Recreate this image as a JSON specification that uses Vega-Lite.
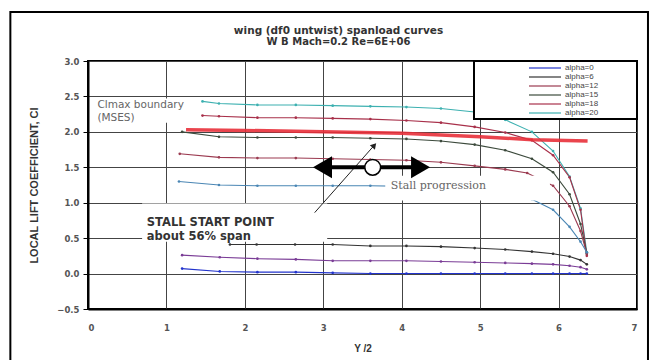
{
  "$schema": "https://vega.github.io/schema/vega-lite/v6.json",
  "autosize": "none",
  "width": 549,
  "height": 248,
  "padding": {"top": 61, "left": 88, "right": 19, "bottom": 51},
  "background": "white",
  "title": {
    "text": "wing (df0 untwist) spanload curves",
    "subtitle": "W B Mach=0.2 Re=6E+06",
    "anchor": "middle",
    "frame": "group",
    "dx": -24,
    "offset": -36,
    "font": "DejaVu Sans",
    "fontSize": 10.5,
    "fontWeight": "bold",
    "color": "#333",
    "subtitleFont": "DejaVu Sans",
    "subtitleFontSize": 10,
    "subtitleFontWeight": "bold",
    "subtitleColor": "#333",
    "subtitlePadding": 1
  },
  "config": {
    "view": {"stroke": "black", "strokeWidth": 2},
    "axis": {
      "labelFont": "DejaVu Sans",
      "labelFontWeight": "bold",
      "labelFontSize": 8.5,
      "labelColor": "#555",
      "labelOverlap": false,
      "titleFont": "Liberation Sans",
      "titleFontWeight": "bold",
      "titleFontSize": 9.5,
      "titleColor": "#333",
      "gridColor": "#444",
      "gridOpacity": 1,
      "gridWidth": 1,
      "domainColor": "black",
      "domainWidth": 2,
      "tickColor": "black"
    },
    "axisY": {"labelOverlap": false}
  },
  "datasets": {
    "curves": [
      {"series": "alpha=20", "x": 1.46, "cl": 2.43}, {"series": "alpha=20", "x": 1.67, "cl": 2.40}, {"series": "alpha=20", "x": 2.16, "cl": 2.38}, {"series": "alpha=20", "x": 2.65, "cl": 2.38}, {"series": "alpha=20", "x": 3.12, "cl": 2.37}, {"series": "alpha=20", "x": 3.6, "cl": 2.36}, {"series": "alpha=20", "x": 4.06, "cl": 2.35}, {"series": "alpha=20", "x": 4.5, "cl": 2.33}, {"series": "alpha=20", "x": 4.93, "cl": 2.28}, {"series": "alpha=20", "x": 5.32, "cl": 2.17}, {"series": "alpha=20", "x": 5.66, "cl": 2.0}, {"series": "alpha=20", "x": 5.93, "cl": 1.73}, {"series": "alpha=20", "x": 6.14, "cl": 1.37}, {"series": "alpha=20", "x": 6.28, "cl": 0.92}, {"series": "alpha=20", "x": 6.36, "cl": 0.30},
      {"series": "alpha=18", "x": 1.46, "cl": 2.23}, {"series": "alpha=18", "x": 1.67, "cl": 2.22}, {"series": "alpha=18", "x": 2.16, "cl": 2.20}, {"series": "alpha=18", "x": 2.65, "cl": 2.20}, {"series": "alpha=18", "x": 3.12, "cl": 2.19}, {"series": "alpha=18", "x": 3.6, "cl": 2.18}, {"series": "alpha=18", "x": 4.06, "cl": 2.16}, {"series": "alpha=18", "x": 4.5, "cl": 2.13}, {"series": "alpha=18", "x": 4.93, "cl": 2.07}, {"series": "alpha=18", "x": 5.32, "cl": 1.99}, {"series": "alpha=18", "x": 5.66, "cl": 1.88}, {"series": "alpha=18", "x": 5.93, "cl": 1.67}, {"series": "alpha=18", "x": 6.14, "cl": 1.36}, {"series": "alpha=18", "x": 6.28, "cl": 0.90}, {"series": "alpha=18", "x": 6.36, "cl": 0.25},
      {"series": "alpha=15", "x": 1.2, "cl": 2.00}, {"series": "alpha=15", "x": 1.67, "cl": 1.93}, {"series": "alpha=15", "x": 2.16, "cl": 1.92}, {"series": "alpha=15", "x": 2.65, "cl": 1.92}, {"series": "alpha=15", "x": 3.12, "cl": 1.92}, {"series": "alpha=15", "x": 3.6, "cl": 1.91}, {"series": "alpha=15", "x": 4.06, "cl": 1.90}, {"series": "alpha=15", "x": 4.5, "cl": 1.87}, {"series": "alpha=15", "x": 4.93, "cl": 1.82}, {"series": "alpha=15", "x": 5.32, "cl": 1.74}, {"series": "alpha=15", "x": 5.66, "cl": 1.62}, {"series": "alpha=15", "x": 5.93, "cl": 1.43}, {"series": "alpha=15", "x": 6.14, "cl": 1.12}, {"series": "alpha=15", "x": 6.28, "cl": 0.70}, {"series": "alpha=15", "x": 6.36, "cl": 0.28},
      {"series": "alpha=12", "x": 1.17, "cl": 1.69}, {"series": "alpha=12", "x": 1.67, "cl": 1.64}, {"series": "alpha=12", "x": 2.16, "cl": 1.63}, {"series": "alpha=12", "x": 2.65, "cl": 1.63}, {"series": "alpha=12", "x": 3.12, "cl": 1.62}, {"series": "alpha=12", "x": 3.6, "cl": 1.61}, {"series": "alpha=12", "x": 4.06, "cl": 1.60}, {"series": "alpha=12", "x": 4.5, "cl": 1.57}, {"series": "alpha=12", "x": 4.93, "cl": 1.52}, {"series": "alpha=12", "x": 5.32, "cl": 1.47}, {"series": "alpha=12", "x": 5.6, "cl": 1.42}, {"series": "alpha=12", "x": 5.93, "cl": 1.24}, {"series": "alpha=12", "x": 6.14, "cl": 0.95}, {"series": "alpha=12", "x": 6.28, "cl": 0.60}, {"series": "alpha=12", "x": 6.36, "cl": 0.28},
      {"series": "alpha=10", "x": 1.16, "cl": 1.30}, {"series": "alpha=10", "x": 1.67, "cl": 1.25}, {"series": "alpha=10", "x": 2.16, "cl": 1.24}, {"series": "alpha=10", "x": 2.65, "cl": 1.24}, {"series": "alpha=10", "x": 3.12, "cl": 1.24}, {"series": "alpha=10", "x": 3.6, "cl": 1.24}, {"series": "alpha=10", "x": 4.06, "cl": 1.23}, {"series": "alpha=10", "x": 4.5, "cl": 1.21}, {"series": "alpha=10", "x": 4.93, "cl": 1.18}, {"series": "alpha=10", "x": 5.32, "cl": 1.13}, {"series": "alpha=10", "x": 5.66, "cl": 1.05}, {"series": "alpha=10", "x": 5.93, "cl": 0.90}, {"series": "alpha=10", "x": 6.14, "cl": 0.66}, {"series": "alpha=10", "x": 6.28, "cl": 0.45}, {"series": "alpha=10", "x": 6.36, "cl": 0.30},
      {"series": "alpha=6", "x": 1.81, "cl": 0.41}, {"series": "alpha=6", "x": 2.15, "cl": 0.41}, {"series": "alpha=6", "x": 2.64, "cl": 0.41}, {"series": "alpha=6", "x": 3.12, "cl": 0.41}, {"series": "alpha=6", "x": 3.6, "cl": 0.39}, {"series": "alpha=6", "x": 4.06, "cl": 0.39}, {"series": "alpha=6", "x": 4.5, "cl": 0.38}, {"series": "alpha=6", "x": 4.93, "cl": 0.36}, {"series": "alpha=6", "x": 5.32, "cl": 0.34}, {"series": "alpha=6", "x": 5.66, "cl": 0.31}, {"series": "alpha=6", "x": 5.93, "cl": 0.28}, {"series": "alpha=6", "x": 6.14, "cl": 0.24}, {"series": "alpha=6", "x": 6.28, "cl": 0.19}, {"series": "alpha=6", "x": 6.36, "cl": 0.13},
      {"series": "alpha=3", "x": 1.2, "cl": 0.26}, {"series": "alpha=3", "x": 1.68, "cl": 0.23}, {"series": "alpha=3", "x": 2.16, "cl": 0.21}, {"series": "alpha=3", "x": 2.65, "cl": 0.20}, {"series": "alpha=3", "x": 3.12, "cl": 0.18}, {"series": "alpha=3", "x": 3.6, "cl": 0.18}, {"series": "alpha=3", "x": 4.06, "cl": 0.18}, {"series": "alpha=3", "x": 4.5, "cl": 0.17}, {"series": "alpha=3", "x": 4.93, "cl": 0.16}, {"series": "alpha=3", "x": 5.32, "cl": 0.15}, {"series": "alpha=3", "x": 5.66, "cl": 0.14}, {"series": "alpha=3", "x": 5.93, "cl": 0.13}, {"series": "alpha=3", "x": 6.14, "cl": 0.11}, {"series": "alpha=3", "x": 6.28, "cl": 0.09}, {"series": "alpha=3", "x": 6.36, "cl": 0.06},
      {"series": "alpha=0", "x": 1.2, "cl": 0.07}, {"series": "alpha=0", "x": 1.68, "cl": 0.03}, {"series": "alpha=0", "x": 2.16, "cl": 0.02}, {"series": "alpha=0", "x": 2.65, "cl": 0.02}, {"series": "alpha=0", "x": 3.12, "cl": 0.01}, {"series": "alpha=0", "x": 3.6, "cl": 0.0}, {"series": "alpha=0", "x": 4.06, "cl": 0.0}, {"series": "alpha=0", "x": 4.5, "cl": 0.0}, {"series": "alpha=0", "x": 4.93, "cl": 0.0}, {"series": "alpha=0", "x": 5.32, "cl": 0.0}, {"series": "alpha=0", "x": 5.66, "cl": 0.0}, {"series": "alpha=0", "x": 5.93, "cl": 0.0}, {"series": "alpha=0", "x": 6.14, "cl": 0.0}, {"series": "alpha=0", "x": 6.28, "cl": 0.0}, {"series": "alpha=0", "x": 6.36, "cl": 0.0}
    ],
    "clmax": [
      {"x": 1.25, "cl": 2.03}, {"x": 2.0, "cl": 2.02}, {"x": 3.0, "cl": 2.0}, {"x": 4.0, "cl": 1.98}, {"x": 5.0, "cl": 1.93}, {"x": 5.67, "cl": 1.89}, {"x": 6.37, "cl": 1.87}
    ]
  },
  "layer": [
    {
      "data": {"values": [{"x": -0.99, "x2": 7.14, "cl": 3.69, "cl2": -1.4}]},
      "mark": {"type": "rect", "fill": null, "fillOpacity": 0, "stroke": "black", "strokeWidth": 2, "clip": false},
      "encoding": {
        "x": {"field": "x", "type": "quantitative"},
        "x2": {"field": "x2"},
        "y": {"field": "cl", "type": "quantitative"},
        "y2": {"field": "cl2"}
      }
    },
    {
      "data": {"name": "curves"},
      "mark": {"type": "line", "strokeWidth": 1.1, "point": {"filled": true, "size": 7}},
      "encoding": {
        "x": {
          "field": "x", "type": "quantitative", "title": "Y /2",
          "scale": {"domain": [0, 7], "nice": false, "zero": false},
          "axis": {"values": [0, 1, 2, 3, 4, 5, 6, 7], "format": "d", "ticks": false, "labelPadding": 14, "titlePadding": 12, "labelOverlap": false, "titleFontSize": 10}
        },
        "y": {
          "field": "cl", "type": "quantitative", "title": "LOCAL LIFT COEFFICIENT, Cl",
          "scale": {"domain": [-0.5, 3.0], "nice": false, "zero": false},
          "axis": {"tickCount": 8, "format": ".1f", "tickSize": 5, "labelPadding": 4, "titlePadding": 17, "labelOverlap": false, "labelSeparation": 0, "labelFlush": false, "titleFontSize": 11}
        },
        "color": {
          "field": "series", "type": "nominal",
          "scale": {
            "domain": ["alpha=0", "alpha=6", "alpha=12", "alpha=15", "alpha=18", "alpha=20", "alpha=3", "alpha=10"],
            "range": ["#2233cc", "#333333", "#9b3a50", "#3c4a3c", "#a8304a", "#3cb0b0", "#7a3c96", "#4a86b4"]
          },
          "legend": {
            "values": ["alpha=0", "alpha=6", "alpha=12", "alpha=15", "alpha=18", "alpha=20"],
            "title": null,
            "orient": "top-right",
            "offset": 0,
            "symbolType": "M-4,0L4,0",
            "symbolSize": 64,
            "symbolStrokeWidth": 1.2,
            "symbolOffset": 64,
            "rowPadding": 0,
            "padding": 2,
            "labelFont": "Liberation Sans",
            "labelFontSize": 8,
            "labelColor": "#444",
            "labelOffset": 15,
            "labelExpr": "datum.label + '\u2800\u2800\u2800\u2800\u2800\u2800'",
            "strokeColor": "black",
            "fillColor": "white",
            "encode": {"legend": {"update": {"strokeWidth": {"value": 2}}}}
          }
        }
      }
    },
    {
      "data": {"name": "clmax"},
      "mark": {"type": "line", "color": "#e8303a", "strokeWidth": 3.5, "opacity": 0.9},
      "encoding": {
        "x": {"field": "x", "type": "quantitative"},
        "y": {"field": "cl", "type": "quantitative"}
      }
    },
    {
      "data": {"values": [
        {"x": 0.69, "x2": 3.05, "cl": 0.99, "cl2": 0.45},
        {"x": 3.79, "x2": 5.89, "cl": 1.38, "cl2": 1.03},
        {"x": 0.06, "x2": 1.43, "cl": 2.47, "cl2": 2.13}
      ]},
      "mark": {"type": "rect", "fill": "white", "stroke": null},
      "encoding": {
        "x": {"field": "x", "type": "quantitative"},
        "x2": {"field": "x2"},
        "y": {"field": "cl", "type": "quantitative"},
        "y2": {"field": "cl2"}
      }
    },
    {
      "data": {"values": [
        {"x": 0.12, "cl": 2.38, "text": "Clmax boundary"},
        {"x": 0.12, "cl": 2.19, "text": "(MSES)"}
      ]},
      "mark": {"type": "text", "align": "left", "baseline": "middle", "font": "DejaVu Sans", "fontSize": 10.5, "color": "#666"},
      "encoding": {
        "x": {"field": "x", "type": "quantitative"},
        "y": {"field": "cl", "type": "quantitative"},
        "text": {"field": "text"}
      }
    },
    {
      "data": {"values": [
        {"x": 0.75, "cl": 0.72, "text": "STALL START POINT"},
        {"x": 0.75, "cl": 0.52, "text": "about 56% span"}
      ]},
      "mark": {"type": "text", "align": "left", "baseline": "middle", "font": "DejaVu Sans", "fontWeight": "bold", "fontSize": 11.5, "color": "#333"},
      "encoding": {
        "x": {"field": "x", "type": "quantitative"},
        "y": {"field": "cl", "type": "quantitative"},
        "text": {"field": "text"}
      }
    },
    {
      "data": {"values": [{"x": 3.86, "cl": 1.23, "text": "Stall progression"}]},
      "mark": {"type": "text", "align": "left", "baseline": "middle", "font": "DejaVu Serif", "fontSize": 11, "color": "#666"},
      "encoding": {
        "x": {"field": "x", "type": "quantitative"},
        "y": {"field": "cl", "type": "quantitative"},
        "text": {"field": "text"}
      }
    },
    {
      "data": {"values": [{"x": 2.89, "cl": 0.86, "x2": 3.65, "cl2": 1.81}]},
      "mark": {"type": "rule", "color": "#222", "strokeWidth": 1},
      "encoding": {
        "x": {"field": "x", "type": "quantitative"},
        "y": {"field": "cl", "type": "quantitative"},
        "x2": {"field": "x2"},
        "y2": {"field": "cl2"}
      }
    },
    {
      "data": {"values": [{"x": 3.65, "cl": 1.81}]},
      "mark": {"type": "point", "shape": "triangle-up", "angle": 41, "size": 45, "filled": true, "color": "#222", "opacity": 1},
      "encoding": {
        "x": {"field": "x", "type": "quantitative"},
        "y": {"field": "cl", "type": "quantitative"}
      }
    },
    {
      "data": {"values": [{"x": 3.0, "x2": 4.22, "cl": 1.5}]},
      "mark": {"type": "rule", "color": "black", "strokeWidth": 4},
      "encoding": {
        "x": {"field": "x", "type": "quantitative"},
        "x2": {"field": "x2"},
        "y": {"field": "cl", "type": "quantitative"}
      }
    },
    {
      "data": {"values": [{"x": 2.99, "cl": 1.5, "dir": "left"}, {"x": 4.24, "cl": 1.5, "dir": "right"}]},
      "mark": {"type": "point", "filled": true, "size": 480, "color": "black", "opacity": 1},
      "encoding": {
        "x": {"field": "x", "type": "quantitative"},
        "y": {"field": "cl", "type": "quantitative"},
        "shape": {"field": "dir", "type": "nominal", "scale": {"domain": ["left", "right"], "range": ["triangle-left", "triangle-right"]}, "legend": null}
      }
    },
    {
      "data": {"values": [{"x": 3.63, "cl": 1.5}]},
      "mark": {"type": "point", "shape": "circle", "size": 250, "filled": true, "fill": "white", "stroke": "black", "strokeWidth": 1.5, "opacity": 1},
      "encoding": {
        "x": {"field": "x", "type": "quantitative"},
        "y": {"field": "cl", "type": "quantitative"}
      }
    }
  ]
}
